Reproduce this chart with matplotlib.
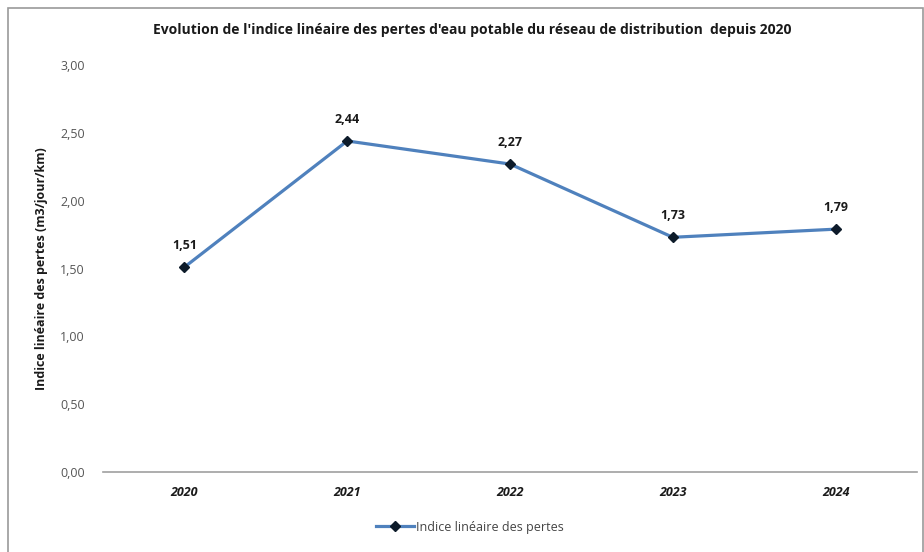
import matplotlib
matplotlib.use("Agg")
import matplotlib.pyplot as plt
from matplotlib.patches import Rectangle
from matplotlib.lines import Line2D

years = ["2020", "2021", "2022", "2023", "2024"]
values = [1.51, 2.44, 2.27, 1.73, 1.79]
yticks = [0.0, 0.5, 1.0, 1.5, 2.0, 2.5, 3.0]

plt.rcParams['font.family'] = ['Open Sans', 'DejaVu Sans']

fig = plt.figure(figsize=(9.24, 5.52), dpi=100)
fig.patches.append(Rectangle((8/924, -0.01), (923-8)/924, 1 - 8/552 + 0.01,
                             transform=fig.transFigure, fill=False,
                             edgecolor='#9a9a9a', linewidth=1.2))

ax = fig.add_axes([103/924, 1-472/552, (917-103)/924, (472-65)/552])
x = list(range(len(years)))
line_color = '#4f81bd'
ax.plot(x, values, color=line_color, linewidth=2.3, marker='D', markersize=5.5,
        markerfacecolor='#0d1b2a', markeredgecolor='#0d1b2a', zorder=3)
for xi, v in zip(x, values):
    ax.annotate(f"{v:.2f}".replace('.', ','), (xi, v), xytext=(0, 11),
                textcoords='offset points', ha='center', va='bottom',
                fontsize=9, fontweight='bold', color='#1a1a1a')

ax.set_xlim(-0.5, len(years) - 0.5)
ax.set_ylim(0, 3.0)
ax.set_xticks(x)
ax.set_xticklabels(years, fontsize=9, fontweight='bold', fontstyle='italic', color='#1a1a1a')
ax.set_yticks(yticks)
ax.set_yticklabels([f"{t:.2f}".replace('.', ',') for t in yticks], fontsize=9, color='#555555')
ax.tick_params(axis='both', length=0)
ax.tick_params(axis='x', pad=10)
ax.tick_params(axis='y', pad=13)
for s in ['top', 'right', 'left']:
    ax.spines[s].set_visible(False)
ax.spines['bottom'].set_color('#a0a0a0')
ax.spines['bottom'].set_linewidth(1.2)

ax.set_ylabel("Indice linéaire des pertes (m3/jour/km)", fontsize=9, fontweight='bold',
              color='#1a1a1a')
ax.yaxis.set_label_coords((42 - 103) / 814, 0.5)
ax.yaxis.label.set_va('center')

fig.text(472/924, 1-30/552, "Evolution de l'indice linéaire des pertes d'eau potable du réseau de distribution  depuis 2020",
         ha='center', va='center', fontsize=10, fontweight='bold', color='#1a1a1a')

handle = Line2D([], [], color=line_color, linewidth=2.3, marker='D', markersize=5.5,
                markerfacecolor='#0d1b2a', markeredgecolor='#0d1b2a')
fig.legend([handle], ["Indice linéaire des pertes"], loc='center', bbox_to_anchor=(470/924, 1-527/552),
           frameon=False, fontsize=9, handlelength=3, handletextpad=0.2, labelcolor='#444444')

fig.savefig("out.png", dpi=100)
